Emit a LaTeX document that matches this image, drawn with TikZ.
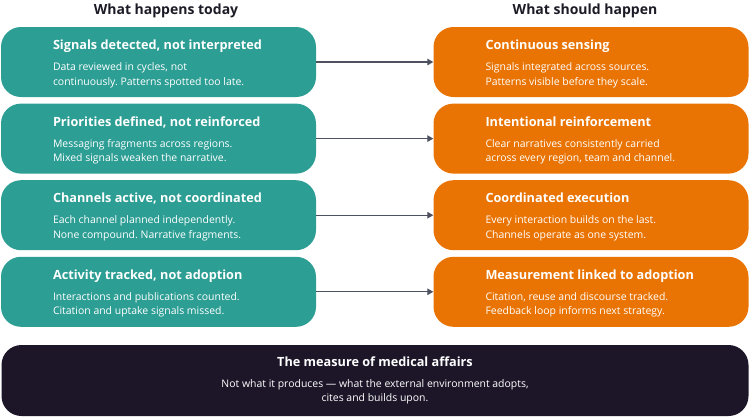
\documentclass[tikz,border=0pt]{standalone}
\usepackage{fontspec}
\setmainfont{Open Sans}
\usepackage{xcolor}
\usetikzlibrary{arrows.meta, positioning}
\definecolor{tealbox}{RGB}{44,158,148}
\definecolor{orangebox}{RGB}{233,116,4}
\definecolor{darkbox}{RGB}{29,22,41}
\definecolor{headtext}{RGB}{28,27,38}
\definecolor{arrowgray}{RGB}{78,82,96}
\newcommand{\boxtitle}[1]{{\fontsize{12.7}{15}\selectfont\bfseries #1}}
\frenchspacing

\begin{document}
\begin{tikzpicture}[x=1pt, y=-1pt,
  box/.style={rounded corners=20pt, minimum width=315pt, minimum height=70pt, inner sep=0pt},
  tbox/.style={box, fill=tealbox},
  obox/.style={box, fill=orangebox},
  txt/.style={align=left, inner sep=0pt, text=white, font=\fontsize{10.45}{14.5}\selectfont},
  stxt/.style={txt, yshift=-1.8pt},
  head/.style={font=\fontsize{14}{17}\selectfont\bfseries, text=headtext},
  link/.style={-{Triangle[length=6pt, width=6.5pt]}, arrowgray, line width=1.3pt},
  node distance=6.2pt,
]
\useasboundingbox (0,0) rectangle (750,418);
\node[head] (today) at (166,10.5) {What happens today};
\node[head] (should) at (585,10.5) {What should happen};
\node[tbox] (l1) at (158.5,62) {};
\node[tbox, below=of l1] (l2) {};
\node[tbox, below=of l2] (l3) {};
\node[tbox, below=of l3] (l4) {};
\node[obox] (r1) at (591,62) {};
\node[obox, below=of r1] (r2) {};
\node[obox, below=of r2] (r3) {};
\node[obox, below=of r3] (r4) {};
\node[stxt, right=52pt of l1.west] (l1t) {\boxtitle{Signals detected, not interpreted}\\[6.5pt]
  Data reviewed in cycles, not\\ continuously. Patterns spotted too late.};
\node[stxt, right=52pt of l2.west] (l2t) {\boxtitle{Priorities defined, not reinforced}\\[6.5pt]
  Messaging fragments across regions.\\ Mixed signals weaken the narrative.};
\node[stxt, right=52pt of l3.west] (l3t) {\boxtitle{Channels active, not coordinated}\\[6.5pt]
  Each channel planned independently.\\ None compound. Narrative fragments.};
\node[stxt, right=52pt of l4.west] (l4t) {\boxtitle{Activity tracked, not adoption}\\[6.5pt]
  Interactions and publications counted.\\ Citation and uptake signals missed.};
\node[stxt, right=52pt of r1.west] (r1t) {\boxtitle{Continuous sensing}\\[6.5pt]
  Signals integrated across sources.\\ Patterns visible before they scale.};
\node[stxt, right=52pt of r2.west] (r2t) {\boxtitle{Intentional reinforcement}\\[6.5pt]
  Clear narratives consistently carried\\ across every region, team and channel.};
\node[stxt, right=52pt of r3.west] (r3t) {\boxtitle{Coordinated execution}\\[6.5pt]
  Every interaction builds on the last.\\ Channels operate as one system.};
\node[stxt, right=52pt of r4.west] (r4t) {\boxtitle{Measurement linked to adoption}\\[6.5pt]
  Citation, reuse and discourse tracked.\\ Feedback loop informs next strategy.};
\draw[link] (l1) -- (r1); \draw[link] (l2) -- (r2); \draw[link] (l3) -- (r3); \draw[link] (l4) -- (r4);
\node[box, fill=darkbox, minimum width=747pt, minimum height=71pt, txt, align=center] (measure) at (375,380.5)
  {\boxtitle{The measure of medical affairs}\\[6pt]
  Not what it produces — what the external environment adopts,\\ cites and builds upon.};
\end{tikzpicture}
\end{document}
